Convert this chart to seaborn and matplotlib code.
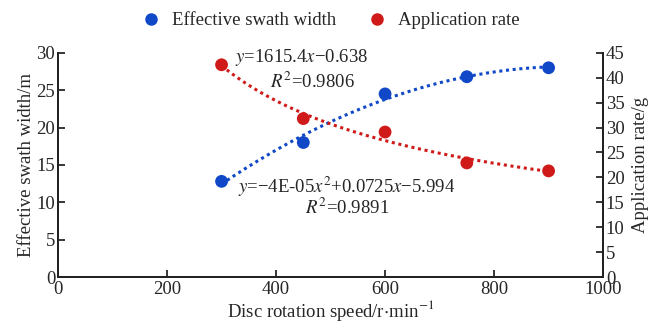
import numpy as np
import pandas as pd
import matplotlib
matplotlib.use("Agg")
import matplotlib.pyplot as plt
import seaborn as sns
from matplotlib.lines import Line2D

# data
speed = [300, 450, 600, 750, 900]
swath_width = [12.8, 18.0, 24.5, 26.8, 28.0]
app_rate = [42.6, 31.8, 29.1, 22.9, 21.3]

x_ticks = [0, 200, 400, 600, 800, 1000]
left_ticks = [0, 5, 10, 15, 20, 25, 30]
right_ticks = [0, 5, 10, 15, 20, 25, 30, 35, 40, 45]

blue = "#1048c8"
red = "#d01a1a"
fs = 13.5

sns.set_theme(style="ticks")
plt.rcParams["font.family"] = ["Liberation Serif", "DejaVu Serif"]
plt.rcParams["mathtext.fontset"] = "stix"
plt.rcParams["font.size"] = fs

df = pd.DataFrame({"speed": speed, "width": swath_width, "rate": app_rate})

# trend lines (quadratic for width, power for rate)
xs = np.linspace(min(speed), max(speed), 200)
quad = np.polyfit(df["speed"], df["width"], 2)
pw = np.polyfit(np.log(df["speed"]), np.log(df["rate"]), 1)
fit = pd.DataFrame({"speed": xs,
                    "width": np.polyval(quad, xs),
                    "rate": np.exp(pw[1]) * xs ** pw[0]})

fig = plt.figure(figsize=(6.52, 3.24), dpi=100)
ax = fig.add_axes([0.089, 0.145, 0.836, 0.692])
ax2 = ax.twinx()

sns.lineplot(data=fit, x="speed", y="width", ax=ax, color=blue,
             linestyle=(0, (1, 1.2)), linewidth=2.2)
sns.scatterplot(data=df, x="speed", y="width", ax=ax, color=blue,
                s=85, edgecolor="none", zorder=5)
sns.lineplot(data=fit, x="speed", y="rate", ax=ax2, color=red,
             linestyle=(0, (1, 1.2)), linewidth=2.2)
sns.scatterplot(data=df, x="speed", y="rate", ax=ax2, color=red,
                s=85, edgecolor="none", zorder=5)

ax.set_xlim(0, 1000)
ax.set_ylim(0, 30)
ax2.set_ylim(0, 45)
ax.set_xticks(x_ticks)
ax.set_yticks(left_ticks)
ax2.set_yticks(right_ticks)

ax.set_xlabel(r"Disc rotation speed/r$\cdot$min$^{-1}$", fontsize=fs, labelpad=0)
ax.set_ylabel("Effective swath width/m", fontsize=fs, labelpad=1)
ax2.set_ylabel("Application rate/g", fontsize=fs, labelpad=5)

for a in (ax, ax2):
    a.tick_params(direction="in", length=5, width=1.3, labelsize=fs, pad=2)
    a.spines["top"].set_visible(False)
    for s in ("left", "right", "bottom"):
        a.spines[s].set_linewidth(1.4)
        a.spines[s].set_color("#222222")
ax.spines["right"].set_visible(True)
ax.tick_params(axis="x", pad=3)

ax.text(325, 29.4, r"$y$=1615.4$x$−0.638", fontsize=fs, va="center")
ax.text(389, 26.1, r"$R^2$=0.9806", fontsize=fs, va="center")
ax.text(330, 12.1, r"$y$=−4E-05$x^2$+0.0725$x$−5.994", fontsize=fs, va="center")
ax.text(453, 9.2, r"$R^2$=0.9891", fontsize=fs, va="center")

handles = [Line2D([], [], marker="o", color=blue, linestyle="none", markersize=8),
           Line2D([], [], marker="o", color=red, linestyle="none", markersize=8)]
fig.legend(handles, ["Effective swath width", "Application rate"], loc="upper center",
           bbox_to_anchor=(0.5, 1.015), ncol=2, frameon=False, fontsize=fs,
           handletextpad=0.1, columnspacing=1.2)

fig.savefig("out.png", dpi=100)
